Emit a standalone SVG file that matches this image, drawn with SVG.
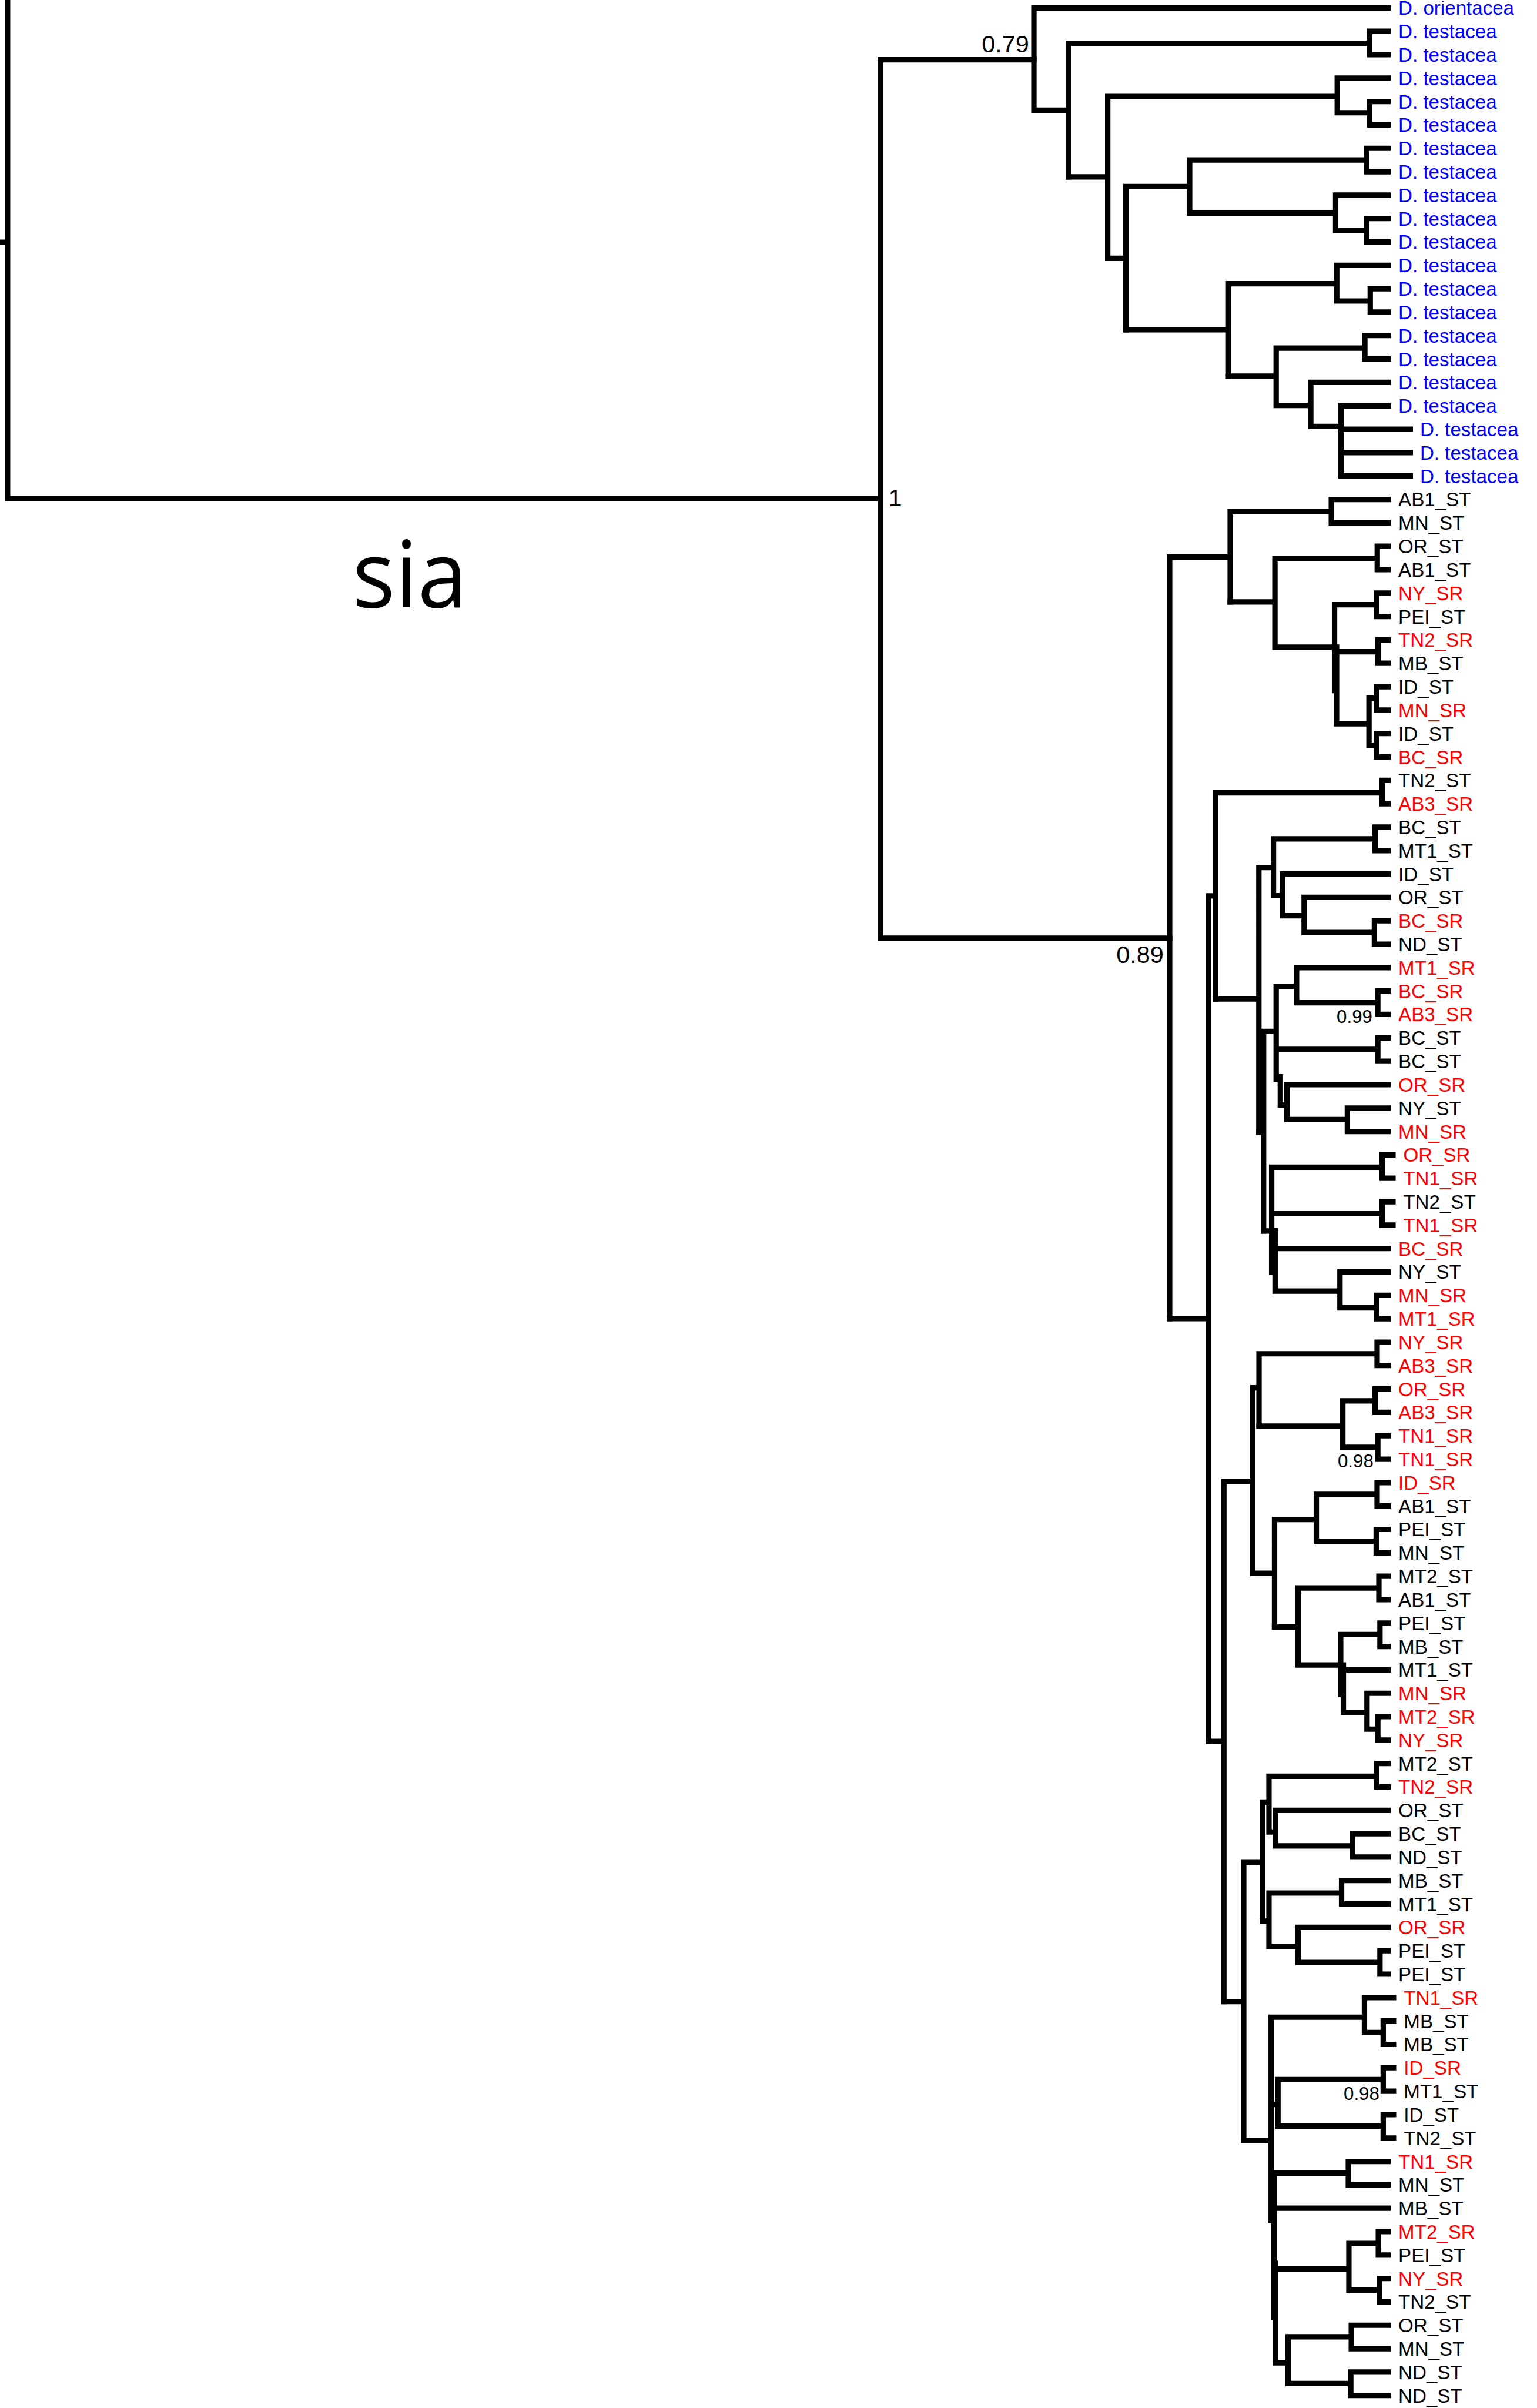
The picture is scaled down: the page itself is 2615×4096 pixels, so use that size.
<svg xmlns="http://www.w3.org/2000/svg" width="2615" height="4096" viewBox="0 0 2615 4096">
<style>
.br{fill:none;stroke:#000;stroke-width:10;stroke-linecap:square;stroke-linejoin:miter}
.lb{font-family:"Liberation Sans",Arial,Helvetica,sans-serif;font-size:36px}
.k{fill:#000}.r{fill:#ff0000}.b{fill:#0000ff}
.sup{font-family:"Liberation Sans",Arial,Helvetica,sans-serif;fill:#000}
.big{font-size:45px}.sm{font-size:34px}
</style>
<rect x="0" y="0" width="2615" height="4096" fill="#fff"/>
<g transform="scale(0.92)">
<!-- branches -->
<g id="branches" class="br">
<path d="M14,5 V922 M5,448 H14 M14,922 H1628 M1628,110.5 V1734.5 M1628,110.5 H1912 M1628,1734.5 H2163"/>
<!-- outgroup clade -->
<path d="M2567,14.5 H1912 V203.6 H1976 M1976,80 V327 M1976,80 H2533 M2567,57.8 H2533 V101.1 H2567"/>
<path d="M1976,327 H2048.5 M2048.5,178.4 V477.5 M2048.5,178.4 H2473 M2567,144.3 H2473 V208.4 H2533 M2567,187.6 H2533 V230.9 H2567"/>
<path d="M2048.5,477.5 H2082 M2082,345 V609.8 M2082,345 H2200 M2200,295.7 V394 M2200,295.7 H2527 M2567,274.2 H2527 V317.5 H2567 M2200,394 H2470 M2567,360.7 H2470 V426.6 H2527 M2567,404 H2527 V447.3 H2567"/>
<path d="M2082,609.8 H2272 M2272,524.5 V695.6 M2272,524.5 H2472 M2567,490.6 H2472 V556.5 H2534 M2567,533.9 H2534 V577.1 H2567"/>
<path d="M2272,695.6 H2360 M2360,643.7 V749.7 M2360,643.7 H2524 M2567,620.4 H2524 V663.7 H2567 M2360,749.7 H2424 M2567,707 H2424 V788.5 H2480 M2567,750.3 H2480 V880.1 H2608 M2480,793.5 H2608 M2480,836.8 H2608"/>
<!-- upper ingroup clade -->
<path d="M2163,1030 V2438 M2163,1030 H2275 M2275,946 V1113 M2275,946 H2462 M2567,923.4 H2462 V966.7 H2567"/>
<path d="M2275,1113 H2357.7 M2357.7,1033 V1196.7 M2357.7,1033 H2547 M2567,1009.9 H2547 V1053.2 H2567 M2357.7,1196.7 H2468 M2468,1118 V1276.7 M2468,1118 H2545.5 M2567,1096.5 H2545.5 V1139.8 H2567"/>
<path d="M2471.7,1196.7 V1338.3 M2471.7,1205 H2548.5 M2567,1183.1 H2548.5 V1226.3 H2567 M2471.7,1338.3 H2531.7 M2531.7,1291 V1378 M2531.7,1291 H2545.5 M2567,1269.6 H2545.5 V1312.9 H2567 M2531.7,1378 H2545.5 M2567,1356.2 H2545.5 V1399.5 H2567"/>
<!-- lower ingroup clade -->
<path d="M2163,2438 H2235 M2235,1656.3 V3219.7 M2235,1656.3 H2248 M2248,1466 V1847 M2248,1466 H2556 M2567,1442.7 H2556 V1486 H2567"/>
<path d="M2248,1847 H2328 M2328,1604 V2093 M2328,1604 H2355 M2355,1551 V1656 M2355,1551 H2543 M2567,1529.3 H2543 V1572.6 H2567 M2355,1656 H2371.7 M2567,1615.9 H2371.7 V1693 H2411.7 M2567,1659.1 H2411.7 V1724 H2541.7 M2567,1702.4 H2541.7 V1745.7 H2567"/>
<path d="M2328,2093 H2336.7 M2336.7,1907 V2276 M2336.7,1907 H2360 M2360,1823.6 V1996 M2360,1823.6 H2397.7 M2567,1789 H2397.7 V1854 H2548 M2567,1832.3 H2548 V1875.5 H2567 M2360,1940 H2548 M2567,1918.8 H2548 V1962.1 H2567"/>
<path d="M2367.7,1991 V2043 M2367.7,2043 H2380 M2567,2005.4 H2380 V2070 H2491.7 M2567,2048.7 H2491.7 V2091.9 H2567"/>
<path d="M2336.7,2276 H2358 M2351.7,2158 V2351.7 M2351.7,2158 H2556 M2576,2135.2 H2556 V2178.5 H2576 M2351.7,2244 H2556 M2576,2221.8 H2556 V2265.1 H2576"/>
<path d="M2358,2276 V2387 M2567,2308.3 H2358 M2358,2387 H2478 M2567,2351.6 H2478 V2418 H2546 M2567,2394.9 H2546 V2438.2 H2567"/>
<path d="M2235,3219.7 H2263.3 M2263.3,2738.7 V3700.8 M2263.3,2738.7 H2316.7 M2316.7,2566 V2908.7 M2316.7,2566 H2328.3 M2328.3,2503 V2636.7 M2328.3,2503 H2546.7 M2567,2481.5 H2546.7 V2524.7 H2567"/>
<path d="M2328.3,2636.7 H2483.3 M2483.3,2590 V2676 M2483.3,2590 H2543 M2567,2568 H2543 V2611.3 H2567 M2483.3,2676 H2548 M2567,2654.6 H2548 V2697.9 H2567"/>
<path d="M2316.7,2908.7 H2357 M2357,2809.3 V3008 M2357,2809.3 H2434.3 M2434.3,2763 V2849.5 M2434.3,2763 H2546.7 M2567,2741.1 H2546.7 V2784.4 H2567 M2434.3,2849.5 H2545 M2567,2827.7 H2545 V2871 H2567"/>
<path d="M2357,3008 H2400.5 M2400.5,2936 V3078.5 M2400.5,2936 H2550 M2567,2914.3 H2550 V2957.5 H2567 M2400.5,3078.5 H2479.3 M2479.3,3022 V3133 M2479.3,3022 H2552 M2567,3000.8 H2552 V3044.1 H2567"/>
<path d="M2484.3,3078.5 V3166.3 M2567,3087.4 H2484.3 M2484.3,3166.3 H2528 M2567,3130.7 H2528 V3197 H2548 M2567,3173.9 H2548 V3217.2 H2567"/>
<path d="M2263.3,3700.8 H2300 M2300,3443.5 V3958 M2300,3443.5 H2335 M2335,3332 V3551.8 M2335,3332 H2346.7 M2346.7,3284 V3387 M2346.7,3284 H2546 M2567,3260.5 H2546 V3303.8 H2567 M2346.7,3387 H2358.3 M2567,3347.1 H2358.3 V3413 H2501 M2567,3390.3 H2501 V3433.6 H2567"/>
<path d="M2335,3551.8 H2346.7 M2346.7,3500 V3598.8 M2346.7,3500 H2481 M2567,3476.9 H2481 V3520.2 H2567 M2346.7,3598.8 H2400.5 M2567,3563.5 H2400.5 V3628.5 H2552 M2567,3606.7 H2552 V3650 H2567"/>
<path d="M2300,3958 H2350.7 M2350.7,3729.6 V4106 M2350.7,3729.6 H2523.3 M2577,3693.3 H2523.3 V3758 H2558 M2577,3736.6 H2558 V3779.9 H2577 M2350.7,3891 H2363.3 M2363.3,3845 V3931 M2363.3,3845 H2558 M2577,3823.1 H2558 V3866.4 H2577 M2363.3,3931 H2558 M2577,3909.7 H2558 V3953 H2577"/>
<path d="M2356,4018 V4285 M2356,4018 H2493.5 M2567,3996.3 H2493.5 V4039.5 H2567 M2567,4082.8 H2356 M2356,4195 H2494.5 M2494.5,4148 V4234 M2494.5,4148 H2549 M2567,4126.1 H2549 V4169.4 H2567 M2494.5,4234 H2551 M2567,4212.7 H2551 V4255.9 H2567"/>
<path d="M2358.3,4185 V4368.7 M2358.3,4368.7 H2382 M2382,4320.6 V4407 M2382,4320.6 H2499 M2567,4299.2 H2499 V4342.5 H2567 M2382,4407 H2498 M2567,4385.8 H2498 V4429.1 H2567"/>
</g>
<!-- support values -->
<g id="support" class="sup">
<text class="big" x="1903" y="97" text-anchor="end">0.79</text>
<text class="big" x="1643" y="936">1</text>
<text class="big" x="2152" y="1780" text-anchor="end">0.89</text>
<text class="sm" x="2538" y="1891" text-anchor="end">0.99</text>
<text class="sm" x="2540" y="2713" text-anchor="end">0.98</text>
<text class="sm" x="2551" y="3883" text-anchor="end">0.98</text>
</g>
<text id="sia" x="652" y="1123" font-family="'Open Sans','Noto Sans',sans-serif" font-size="172" textLength="212" lengthAdjust="spacingAndGlyphs" fill="#000">sia</text>
<!-- tip labels -->
<g id="tips" class="lb">
<g id="tip-0"><text class="b" x="2586" y="27.5">D. orientacea</text></g>
<g id="tip-1"><text class="b" x="2586" y="70.8">D. testacea</text></g>
<g id="tip-2"><text class="b" x="2586" y="114.1">D. testacea</text></g>
<g id="tip-3"><text class="b" x="2586" y="157.3">D. testacea</text></g>
<g id="tip-4"><text class="b" x="2586" y="200.6">D. testacea</text></g>
<g id="tip-5"><text class="b" x="2586" y="243.9">D. testacea</text></g>
<g id="tip-6"><text class="b" x="2586" y="287.2">D. testacea</text></g>
<g id="tip-7"><text class="b" x="2586" y="330.5">D. testacea</text></g>
<g id="tip-8"><text class="b" x="2586" y="373.7">D. testacea</text></g>
<g id="tip-9"><text class="b" x="2586" y="417">D. testacea</text></g>
<g id="tip-10"><text class="b" x="2586" y="460.3">D. testacea</text></g>
<g id="tip-11"><text class="b" x="2586" y="503.6">D. testacea</text></g>
<g id="tip-12"><text class="b" x="2586" y="546.9">D. testacea</text></g>
<g id="tip-13"><text class="b" x="2586" y="590.1">D. testacea</text></g>
<g id="tip-14"><text class="b" x="2586" y="633.4">D. testacea</text></g>
<g id="tip-15"><text class="b" x="2586" y="676.7">D. testacea</text></g>
<g id="tip-16"><text class="b" x="2586" y="720">D. testacea</text></g>
<g id="tip-17"><text class="b" x="2586" y="763.3">D. testacea</text></g>
<g id="tip-18"><text class="b" x="2626" y="806.5">D. testacea</text></g>
<g id="tip-19"><text class="b" x="2626" y="849.8">D. testacea</text></g>
<g id="tip-20"><text class="b" x="2626" y="893.1">D. testacea</text></g>
<g id="tip-21"><text class="k" x="2586" y="936.4">AB1_ST</text></g>
<g id="tip-22"><text class="k" x="2586" y="979.7">MN_ST</text></g>
<g id="tip-23"><text class="k" x="2586" y="1022.9">OR_ST</text></g>
<g id="tip-24"><text class="k" x="2586" y="1066.2">AB1_ST</text></g>
<g id="tip-25"><text class="r" x="2586" y="1109.5">NY_SR</text></g>
<g id="tip-26"><text class="k" x="2586" y="1152.8">PEI_ST</text></g>
<g id="tip-27"><text class="r" x="2586" y="1196.1">TN2_SR</text></g>
<g id="tip-28"><text class="k" x="2586" y="1239.3">MB_ST</text></g>
<g id="tip-29"><text class="k" x="2586" y="1282.6">ID_ST</text></g>
<g id="tip-30"><text class="r" x="2586" y="1325.9">MN_SR</text></g>
<g id="tip-31"><text class="k" x="2586" y="1369.2">ID_ST</text></g>
<g id="tip-32"><text class="r" x="2586" y="1412.5">BC_SR</text></g>
<g id="tip-33"><text class="k" x="2586" y="1455.7">TN2_ST</text></g>
<g id="tip-34"><text class="r" x="2586" y="1499">AB3_SR</text></g>
<g id="tip-35"><text class="k" x="2586" y="1542.3">BC_ST</text></g>
<g id="tip-36"><text class="k" x="2586" y="1585.6">MT1_ST</text></g>
<g id="tip-37"><text class="k" x="2586" y="1628.9">ID_ST</text></g>
<g id="tip-38"><text class="k" x="2586" y="1672.1">OR_ST</text></g>
<g id="tip-39"><text class="r" x="2586" y="1715.4">BC_SR</text></g>
<g id="tip-40"><text class="k" x="2586" y="1758.7">ND_ST</text></g>
<g id="tip-41"><text class="r" x="2586" y="1802">MT1_SR</text></g>
<g id="tip-42"><text class="r" x="2586" y="1845.3">BC_SR</text></g>
<g id="tip-43"><text class="r" x="2586" y="1888.5">AB3_SR</text></g>
<g id="tip-44"><text class="k" x="2586" y="1931.8">BC_ST</text></g>
<g id="tip-45"><text class="k" x="2586" y="1975.1">BC_ST</text></g>
<g id="tip-46"><text class="r" x="2586" y="2018.4">OR_SR</text></g>
<g id="tip-47"><text class="k" x="2586" y="2061.7">NY_ST</text></g>
<g id="tip-48"><text class="r" x="2586" y="2104.9">MN_SR</text></g>
<g id="tip-49"><text class="r" x="2595" y="2148.2">OR_SR</text></g>
<g id="tip-50"><text class="r" x="2595" y="2191.5">TN1_SR</text></g>
<g id="tip-51"><text class="k" x="2595" y="2234.8">TN2_ST</text></g>
<g id="tip-52"><text class="r" x="2595" y="2278.1">TN1_SR</text></g>
<g id="tip-53"><text class="r" x="2586" y="2321.3">BC_SR</text></g>
<g id="tip-54"><text class="k" x="2586" y="2364.6">NY_ST</text></g>
<g id="tip-55"><text class="r" x="2586" y="2407.9">MN_SR</text></g>
<g id="tip-56"><text class="r" x="2586" y="2451.2">MT1_SR</text></g>
<g id="tip-57"><text class="r" x="2586" y="2494.5">NY_SR</text></g>
<g id="tip-58"><text class="r" x="2586" y="2537.7">AB3_SR</text></g>
<g id="tip-59"><text class="r" x="2586" y="2581">OR_SR</text></g>
<g id="tip-60"><text class="r" x="2586" y="2624.3">AB3_SR</text></g>
<g id="tip-61"><text class="r" x="2586" y="2667.6">TN1_SR</text></g>
<g id="tip-62"><text class="r" x="2586" y="2710.9">TN1_SR</text></g>
<g id="tip-63"><text class="r" x="2586" y="2754.1">ID_SR</text></g>
<g id="tip-64"><text class="k" x="2586" y="2797.4">AB1_ST</text></g>
<g id="tip-65"><text class="k" x="2586" y="2840.7">PEI_ST</text></g>
<g id="tip-66"><text class="k" x="2586" y="2884">MN_ST</text></g>
<g id="tip-67"><text class="k" x="2586" y="2927.3">MT2_ST</text></g>
<g id="tip-68"><text class="k" x="2586" y="2970.5">AB1_ST</text></g>
<g id="tip-69"><text class="k" x="2586" y="3013.8">PEI_ST</text></g>
<g id="tip-70"><text class="k" x="2586" y="3057.1">MB_ST</text></g>
<g id="tip-71"><text class="k" x="2586" y="3100.4">MT1_ST</text></g>
<g id="tip-72"><text class="r" x="2586" y="3143.7">MN_SR</text></g>
<g id="tip-73"><text class="r" x="2586" y="3186.9">MT2_SR</text></g>
<g id="tip-74"><text class="r" x="2586" y="3230.2">NY_SR</text></g>
<g id="tip-75"><text class="k" x="2586" y="3273.5">MT2_ST</text></g>
<g id="tip-76"><text class="r" x="2586" y="3316.8">TN2_SR</text></g>
<g id="tip-77"><text class="k" x="2586" y="3360.1">OR_ST</text></g>
<g id="tip-78"><text class="k" x="2586" y="3403.3">BC_ST</text></g>
<g id="tip-79"><text class="k" x="2586" y="3446.6">ND_ST</text></g>
<g id="tip-80"><text class="k" x="2586" y="3489.9">MB_ST</text></g>
<g id="tip-81"><text class="k" x="2586" y="3533.2">MT1_ST</text></g>
<g id="tip-82"><text class="r" x="2586" y="3576.5">OR_SR</text></g>
<g id="tip-83"><text class="k" x="2586" y="3619.7">PEI_ST</text></g>
<g id="tip-84"><text class="k" x="2586" y="3663">PEI_ST</text></g>
<g id="tip-85"><text class="r" x="2596" y="3706.3">TN1_SR</text></g>
<g id="tip-86"><text class="k" x="2596" y="3749.6">MB_ST</text></g>
<g id="tip-87"><text class="k" x="2596" y="3792.9">MB_ST</text></g>
<g id="tip-88"><text class="r" x="2596" y="3836.1">ID_SR</text></g>
<g id="tip-89"><text class="k" x="2596" y="3879.4">MT1_ST</text></g>
<g id="tip-90"><text class="k" x="2596" y="3922.7">ID_ST</text></g>
<g id="tip-91"><text class="k" x="2596" y="3966">TN2_ST</text></g>
<g id="tip-92"><text class="r" x="2586" y="4009.3">TN1_SR</text></g>
<g id="tip-93"><text class="k" x="2586" y="4052.5">MN_ST</text></g>
<g id="tip-94"><text class="k" x="2586" y="4095.8">MB_ST</text></g>
<g id="tip-95"><text class="r" x="2586" y="4139.1">MT2_SR</text></g>
<g id="tip-96"><text class="k" x="2586" y="4182.4">PEI_ST</text></g>
<g id="tip-97"><text class="r" x="2586" y="4225.7">NY_SR</text></g>
<g id="tip-98"><text class="k" x="2586" y="4268.9">TN2_ST</text></g>
<g id="tip-99"><text class="k" x="2586" y="4312.2">OR_ST</text></g>
<g id="tip-100"><text class="k" x="2586" y="4355.5">MN_ST</text></g>
<g id="tip-101"><text class="k" x="2586" y="4398.8">ND_ST</text></g>
<g id="tip-102"><text class="k" x="2586" y="4442.1">ND_ST</text></g>
</g>
</g>
</svg>
